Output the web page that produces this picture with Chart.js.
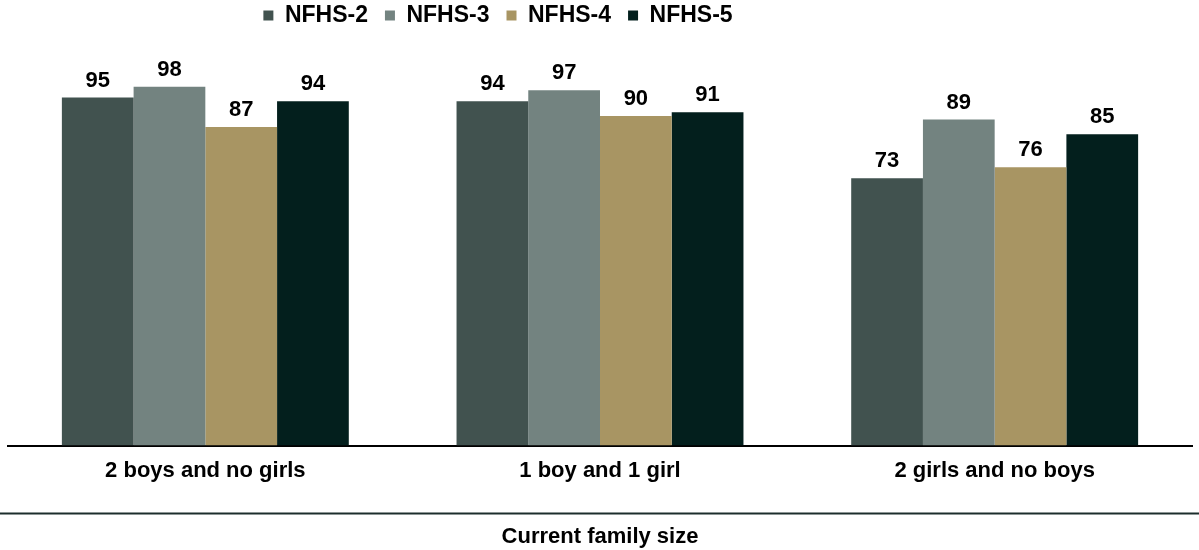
<!DOCTYPE html>
<html>
<head>
<meta charset="utf-8">
<title>Current family size</title>
<script src="https://cdn.jsdelivr.net/npm/chart.js@4"></script>
<style>
  html, body { margin: 0; padding: 0; background: #fff; }
  #wrap { width: 1199px; height: 550px; position: relative; }
</style>
</head>
<body>
<div id="wrap"><canvas id="family-chart"></canvas></div>
<script>
// Chart data
const categories = ['2 boys and no girls', '1 boy and 1 girl', '2 girls and no boys'];
const seriesNames = ['NFHS-2', 'NFHS-3', 'NFHS-4', 'NFHS-5'];
const nfhs2 = [95, 94, 73];
const nfhs3 = [98, 97, 89];
const nfhs4 = [87, 90, 76];
const nfhs5 = [94, 91, 85];
const axisTitle = 'Current family size';

const colors = ['#41524f', '#738380', '#a89563', '#031f1d'];
const FONT = "'Liberation Sans', Arial, sans-serif";

/**
 * Draw the value above each bar
 */
const valueLabels = {
  id: 'valueLabels',
  afterDatasetsDraw(chart) {
    const ctx = chart.ctx;
    ctx.save();
    ctx.font = `bold 22px ${FONT}`;
    ctx.fillStyle = '#000';
    ctx.textAlign = 'center';
    ctx.textBaseline = 'alphabetic';
    chart.data.datasets.forEach((ds, i) => {
      chart.getDatasetMeta(i).data.forEach((bar, j) => {
        ctx.fillText(ds.data[j], bar.x, bar.y - 11);
      });
    });
    ctx.restore();
  }
};

/**
 * Nudge the legend to where the original sits, and draw the rule above the axis title
 */
const frame = {
  id: 'frame',
  afterLayout(chart) {
    const lg = chart.legend;
    lg.left -= 102;
    lg.right -= 102;
    lg.top -= 13;
    lg.bottom -= 13;
  },
  afterDraw(chart) {
    const ctx = chart.ctx;
    const y = chart.scales.x.bottom;
    ctx.save();
    ctx.strokeStyle = '#1c2e2c';
    ctx.lineWidth = 2;
    ctx.beginPath();
    ctx.moveTo(0, y);
    ctx.lineTo(chart.width, y);
    ctx.stroke();
    ctx.restore();
  }
};

const data = [nfhs2, nfhs3, nfhs4, nfhs5];

new Chart(document.getElementById('family-chart').getContext('2d'), {
  type: 'bar',
  data: {
    labels: categories,
    datasets: seriesNames.map((name, i) => ({
      label: name,
      data: data[i],
      backgroundColor: colors[i],
      borderWidth: 0,
      categoryPercentage: 0.727,
      barPercentage: 1.0
    }))
  },
  options: {
    responsive: true,
    maintainAspectRatio: false,
    animation: false,
    layout: { padding: { left: 8, right: 7, top: 0, bottom: 0 } },
    scales: {
      x: {
        grid: { drawOnChartArea: false, drawTicks: false },
        border: { display: true, color: '#000', width: 2 },
        ticks: {
          padding: 12,
          color: '#000',
          font: { family: FONT, size: 22, weight: 'bold' }
        },
        afterFit: scale => { scale.height = 68; }
      },
      x2: {
        type: 'category',
        position: 'bottom',
        grid: { display: false },
        border: { display: false },
        ticks: { display: false },
        title: {
          display: true,
          text: axisTitle,
          color: '#000',
          padding: { top: 2, bottom: 0 },
          font: { family: FONT, size: 22, weight: 'bold' }
        }
      },
      y: {
        display: false,
        min: 0,
        max: 108
      }
    },
    plugins: {
      legend: {
        position: 'top',
        align: 'center',
        labels: {
          boxWidth: 10,
          boxHeight: 10,
          padding: 17,
          color: '#000',
          font: { family: FONT, size: 23, weight: 'bold' }
        }
      },
      tooltip: { enabled: false }
    }
  },
  plugins: [valueLabels, frame]
});
</script>
</body>
</html>
